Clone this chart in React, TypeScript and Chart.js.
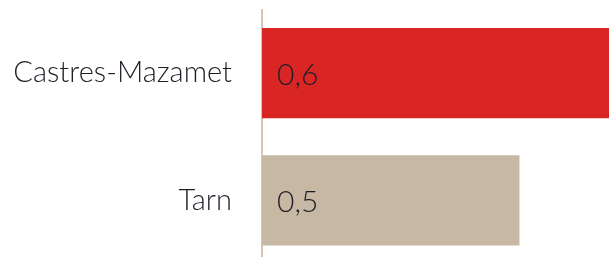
import React, { useEffect, useRef } from "react";
import { Chart, registerables } from "chart.js";

Chart.register(...registerables);

const categories = ["Castres-Mazamet", "Tarn"];
const values = [0.62, 0.46];
const barColors = ["#d92624", "#c7b8a3"];

const FONT = "Lato, 'Open Sans', sans-serif";

const valueLabels = {
  id: "valueLabels",
  afterDatasetsDraw(chart: any) {
    const ctx = chart.ctx;
    const meta = chart.getDatasetMeta(0);
    ctx.save();
    ctx.fillStyle = "#1e1e28";
    ctx.font = `300 30px ${FONT}`;
    ctx.textAlign = "left";
    ctx.textBaseline = "middle";
    meta.data.forEach((bar: any, i: number) => {
      const v = values[i];
      const txt = v.toFixed(1).replace(".", ",");
      ctx.fillText(txt, bar.base + 15, bar.y + 2);
    });
    ctx.restore();
  },
};

export default function App() {
  const ref = useRef<HTMLCanvasElement>(null);
  useEffect(() => {
    const chart = new Chart(ref.current!, {
      type: "bar",
      data: {
        labels: categories,
        datasets: [
          {
            data: values,
            backgroundColor: barColors,
            borderWidth: 0,
            barPercentage: 0.71,
            categoryPercentage: 1,
          },
        ],
      },
      options: {
        indexAxis: "y",
        animation: false,
        responsive: false,
        maintainAspectRatio: false,
        layout: { padding: { top: 9.5, right: 0, bottom: 0, left: 0 } },
        plugins: { legend: { display: false }, tooltip: { enabled: false } },
        scales: {
          x: {
            min: 0,
            max: 0.62,
            display: false,
          },
          y: {
            grid: { display: false, drawTicks: false },
            border: { display: true, color: "#d5c7b4", width: 2 },
            ticks: {
              color: "#1e1e28",
              padding: 30,
              font: { family: FONT, size: 29, weight: "300" as any },
            },
            afterFit(scale: any) {
              scale.width = 262;
              scale.paddingTop = 0;
              scale.paddingBottom = 0;
            },
          },
        },
      },
      plugins: [valueLabels],
    });
    return () => chart.destroy();
  }, []);
  return (
    <div style={{ position: "fixed", left: 0, top: 0, width: 609, height: 257, overflow: "hidden", background: "#fff" }}>
      <canvas ref={ref} width={609} height={264} style={{ display: "block", width: 609, height: 264 }} />
    </div>
  );
}
